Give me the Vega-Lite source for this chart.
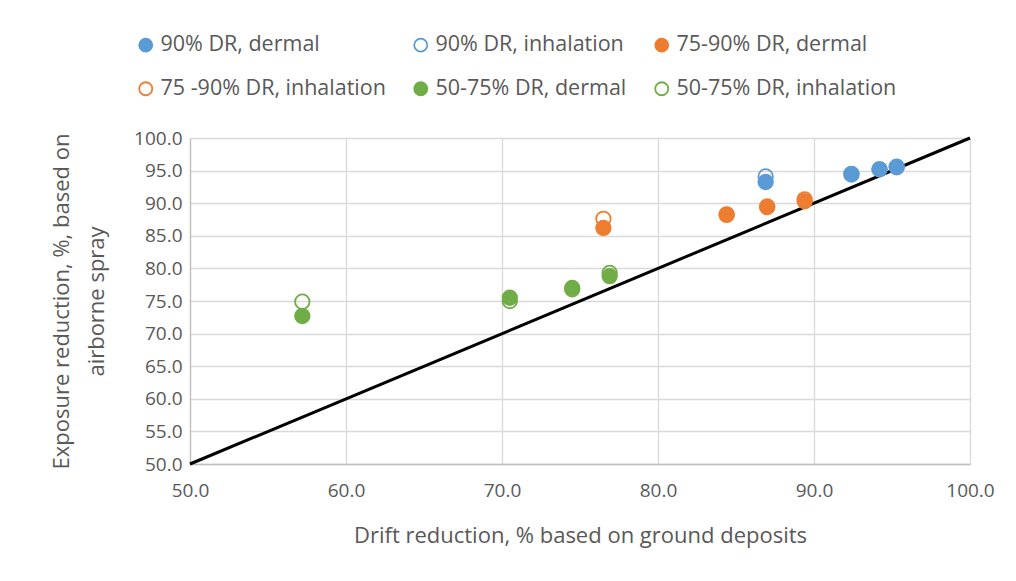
{
  "$schema": "https://vega.github.io/schema/vega-lite/v6.json",
  "width": 780,
  "height": 326,
  "autosize": {"type": "none"},
  "padding": {"left": 190, "top": 138, "right": 46, "bottom": 117},
  "background": "white",
  "config": {
    "font": "Open Sans",
    "view": {"stroke": null},
    "axis": {
      "labelFont": "Open Sans",
      "titleFont": "Open Sans",
      "labelColor": "#595959",
      "titleColor": "#595959",
      "labelFontSize": 19,
      "titleFontSize": 22,
      "titleFontWeight": "normal",
      "gridColor": "#D9D9D9",
      "gridWidth": 1.3,
      "domainColor": "#BFBFBF",
      "domainWidth": 1.3,
      "ticks": false,
      "labelOverlap": false,
      "labelFlush": false,
      "labelBound": false
    }
  },
  "encoding": {
    "x": {
      "field": "drift", "type": "quantitative",
      "scale": {"domain": [50, 100], "nice": false, "zero": false},
      "axis": {"tickCount": 5, "format": ".1f", "title": "Drift reduction, % based on ground deposits", "labelPadding": 17, "titlePadding": 25}
    },
    "y": {
      "field": "exposure", "type": "quantitative",
      "scale": {"domain": [50, 100], "nice": false, "zero": false},
      "axis": {"tickCount": 10, "format": ".1f", "title": ["Exposure reduction, %, based on", "airborne spray"], "labelPadding": 8, "titlePadding": 25, "titleLineHeight": 35}
    }
  },
  "layer": [
    {
      "data": {"values": [{"drift": 50, "exposure": 50}, {"drift": 100, "exposure": 100}]},
      "mark": {"type": "line", "color": "black", "strokeWidth": 3},
      "encoding": {}
    },
    {
      "data": {"values": [
        {"series": "90% DR, dermal", "order": 1, "drift": 86.9, "exposure": 93.25},
        {"series": "90% DR, dermal", "order": 1, "drift": 92.4, "exposure": 94.4},
        {"series": "90% DR, dermal", "order": 1, "drift": 94.2, "exposure": 95.2},
        {"series": "90% DR, dermal", "order": 1, "drift": 95.3, "exposure": 95.5},
        {"series": "90% DR, inhalation", "order": 2, "drift": 86.9, "exposure": 94.1},
        {"series": "90% DR, inhalation", "order": 2, "drift": 92.4, "exposure": 94.5},
        {"series": "90% DR, inhalation", "order": 2, "drift": 94.2, "exposure": 95.2},
        {"series": "90% DR, inhalation", "order": 2, "drift": 95.3, "exposure": 95.6},
        {"series": "75-90% DR, dermal", "order": 3, "drift": 76.5, "exposure": 86.2},
        {"series": "75-90% DR, dermal", "order": 3, "drift": 84.4, "exposure": 88.2},
        {"series": "75-90% DR, dermal", "order": 3, "drift": 87.0, "exposure": 89.4},
        {"series": "75-90% DR, dermal", "order": 3, "drift": 89.4, "exposure": 90.3},
        {"series": "75 -90% DR, inhalation", "order": 4, "drift": 76.5, "exposure": 87.6},
        {"series": "75 -90% DR, inhalation", "order": 4, "drift": 84.4, "exposure": 88.3},
        {"series": "75 -90% DR, inhalation", "order": 4, "drift": 87.0, "exposure": 89.5},
        {"series": "75 -90% DR, inhalation", "order": 4, "drift": 89.4, "exposure": 90.6},
        {"series": "50-75% DR, dermal", "order": 5, "drift": 57.2, "exposure": 72.7},
        {"series": "50-75% DR, dermal", "order": 5, "drift": 70.5, "exposure": 75.5},
        {"series": "50-75% DR, dermal", "order": 5, "drift": 74.5, "exposure": 77.0},
        {"series": "50-75% DR, dermal", "order": 5, "drift": 76.9, "exposure": 78.8},
        {"series": "50-75% DR, inhalation", "order": 6, "drift": 57.2, "exposure": 74.9},
        {"series": "50-75% DR, inhalation", "order": 6, "drift": 70.5, "exposure": 75.0},
        {"series": "50-75% DR, inhalation", "order": 6, "drift": 74.5, "exposure": 76.8},
        {"series": "50-75% DR, inhalation", "order": 6, "drift": 76.9, "exposure": 79.3}
      ]},
      "mark": {"type": "circle", "size": 210, "opacity": 1, "strokeWidth": 1.8},
      "encoding": {
        "order": {"field": "order"},
        "fill": {
          "field": "series", "type": "nominal",
          "scale": {
            "domain": ["90% DR, dermal", "90% DR, inhalation", "75-90% DR, dermal", "75 -90% DR, inhalation", "50-75% DR, dermal", "50-75% DR, inhalation"],
            "range": ["#5B9BD5", "transparent", "#ED7D31", "transparent", "#70AD47", "transparent"]
          },
          "legend": {
            "title": null, "orient": "none", "legendX": -55, "legendY": -104,
            "direction": "horizontal",
            "columns": 3, "columnPadding": 24, "rowPadding": 21,
            "labelFont": "Open Sans", "labelFontSize": 21.5, "labelColor": "#595959", "labelLimit": 400,
            "symbolSize": 170, "symbolStrokeWidth": 1.8, "labelOffset": 4
          }
        },
        "stroke": {
          "field": "series", "type": "nominal",
          "scale": {
            "domain": ["90% DR, dermal", "90% DR, inhalation", "75-90% DR, dermal", "75 -90% DR, inhalation", "50-75% DR, dermal", "50-75% DR, inhalation"],
            "range": ["#5B9BD5", "#5B9BD5", "#ED7D31", "#ED7D31", "#70AD47", "#70AD47"]
          }
        }
      }
    }
  ]
}
